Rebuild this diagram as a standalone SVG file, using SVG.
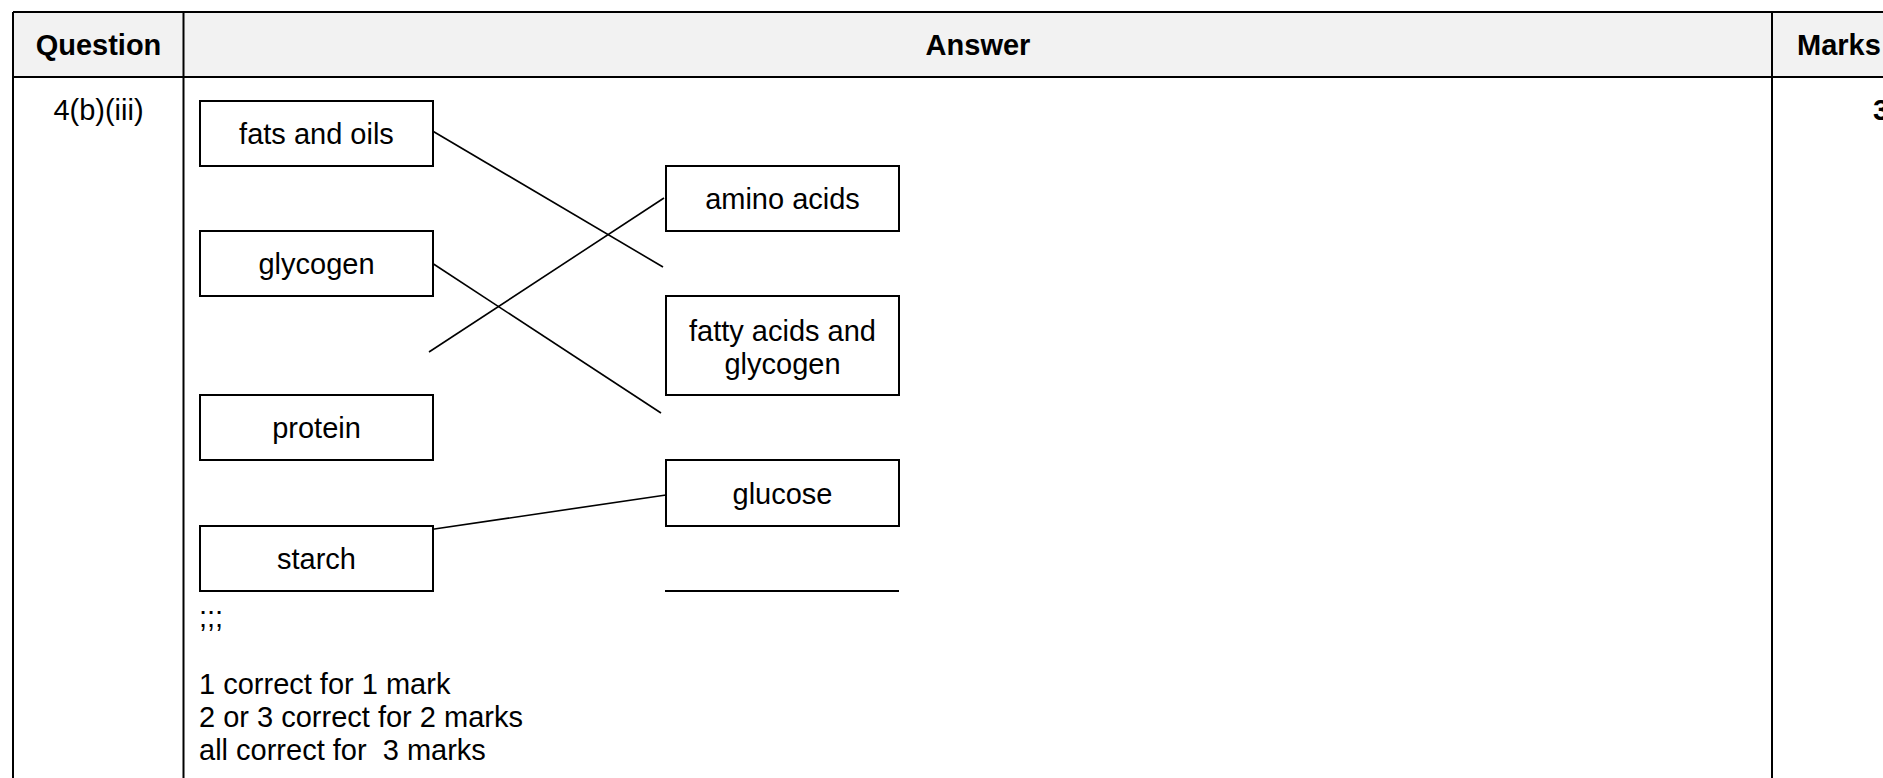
<svg xmlns="http://www.w3.org/2000/svg" width="1883" height="778" viewBox="0 0 1883 778">
<style>
text{font-family:"Liberation Sans",Arial,sans-serif;font-size:29px;fill:#000}
.b{font-weight:bold}
.m{text-anchor:middle}
.pre{white-space:pre}
.box{fill:#fff;stroke:#000;stroke-width:2}
.grid{stroke:#000;stroke-width:2;fill:none}
.con{stroke:#000;stroke-width:1.6;fill:none}
</style>
<rect x="0" y="0" width="1883" height="778" fill="#fff"/>
<g id="table">
<rect x="13" y="12" width="1880" height="65" fill="#f2f2f2"/>
<line class="grid" x1="13" y1="12" x2="1883" y2="12" stroke-width="1.5"/>
<line class="grid" x1="13" y1="77" x2="1883" y2="77" stroke-width="2.5"/>
<line class="grid" x1="13" y1="12" x2="13" y2="778"/>
<line class="grid" x1="183.5" y1="12" x2="183.5" y2="778"/>
<line class="grid" x1="1772" y1="12" x2="1772" y2="778"/>
<text class="b m" x="98.5" y="55">Question</text>
<text class="b m" x="978" y="55">Answer</text>
<text class="b" x="1797" y="55">Marks</text>
<text class="m" x="98.5" y="120">4(b)(iii)</text>
<text class="b" x="1873" y="120">3</text>
</g>
<g id="connectors">
<line class="con" x1="430" y1="129.5" x2="663" y2="267"/>
<line class="con" x1="432" y1="263" x2="661" y2="413"/>
<line class="con" x1="664" y1="198" x2="429" y2="352"/>
<line class="con" x1="431" y1="529.5" x2="666" y2="495"/>
</g>
<g id="fats">
<rect class="box" x="200" y="101" width="233" height="65"/>
<text class="m" x="316.5" y="143.5">fats and oils</text>
</g>
<g id="glycogen">
<rect class="box" x="200" y="231" width="233" height="65"/>
<text class="m" x="316.5" y="274">glycogen</text>
</g>
<g id="protein">
<rect class="box" x="200" y="395" width="233" height="65"/>
<text class="m" x="316.5" y="438">protein</text>
</g>
<g id="starch">
<rect class="box" x="200" y="526" width="233" height="65"/>
<text class="m" x="316.5" y="569">starch</text>
</g>
<g id="amino">
<rect class="box" x="666" y="166" width="233" height="65"/>
<text class="m" x="782.5" y="208.5">amino acids</text>
</g>
<g id="fatty">
<rect class="box" x="666" y="296" width="233" height="99"/>
<text class="m" x="782.5" y="341">fatty acids and</text>
<text class="m" x="782.5" y="374">glycogen</text>
</g>
<g id="glucose">
<rect class="box" x="666" y="460" width="233" height="66"/>
<text class="m" x="782.5" y="503.5">glucose</text>
</g>
<g id="blank">
<line class="grid" x1="665" y1="591" x2="899" y2="591"/>
</g>
<g id="notes">
<text x="199" y="627">;;;</text>
<text x="199" y="694">1 correct for 1 mark</text>
<text x="199" y="727">2 or 3 correct for 2 marks</text>
<text class="pre" x="199" y="760" xml:space="preserve">all correct for  3 marks</text>
</g>
</svg>
